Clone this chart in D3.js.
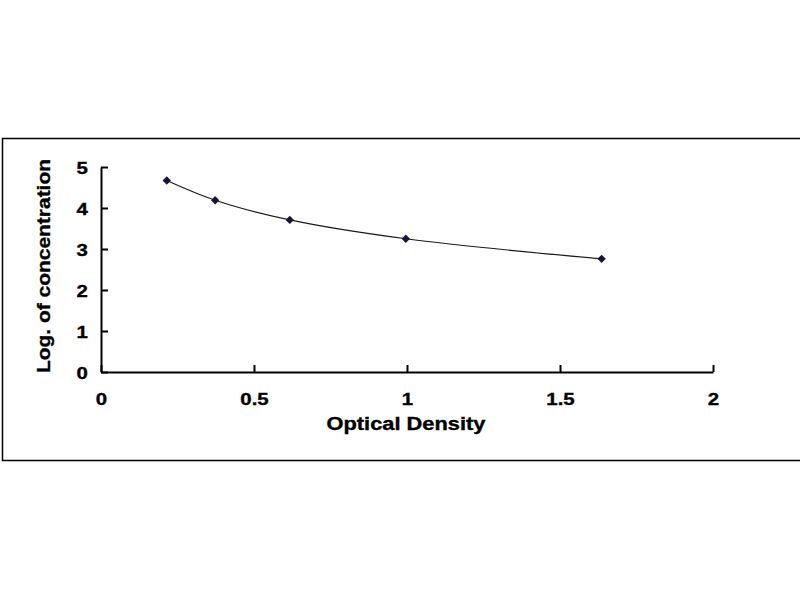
<!DOCTYPE html>
<html>
<head>
<meta charset="utf-8">
<script src="https://cdn.jsdelivr.net/npm/d3@7"></script>
<style>
  body { margin: 0; background: #fff; }
  svg { display: block; }
  text { font-family: "Liberation Sans", Arial, sans-serif; font-weight: bold; fill: #000; stroke: #000; stroke-width: 0.35px; }
</style>
</head>
<body>
<div id="chart"></div>
<script>
const width = 800;
const height = 600;

// Data
const opticalDensity = [0.215, 0.373, 0.617, 0.996, 1.636];
const logConcentration = [4.67, 4.19, 3.71, 3.25, 2.76];
const xTicks = [0, 0.5, 1, 1.5, 2];
const yTicks = [0, 1, 2, 3, 4, 5];

// Plot area
const plotLeft = 101, plotRight = 713, plotTop = 167, plotBottom = 372;

const x = d3.scaleLinear().domain([0, 2]).range([plotLeft, plotRight]);
const y = d3.scaleLinear().domain([0, 5]).range([plotBottom, plotTop]);

const svg = d3.select('#chart')
    .append('svg')
    .attr('width', width)
    .attr('height', height);

// Outer frame
svg.append('rect')
    .attr('x', 2.5)
    .attr('y', 138.5)
    .attr('width', 800)
    .attr('height', 322)
    .attr('fill', 'none')
    .attr('stroke', '#000')
    .attr('stroke-width', 1.5);

// X axis, ticks inside
const xAxis = svg.append('g')
    .attr('transform', `translate(0,${plotBottom})`)
    .call(d3.axisBottom(x).tickValues(xTicks).tickSizeInner(-7).tickSizeOuter(0).tickFormat(d3.format('')));

// Y axis, ticks inside
const yAxis = svg.append('g')
    .attr('transform', `translate(${plotLeft},0)`)
    .call(d3.axisLeft(y).tickValues(yTicks).tickSizeInner(-7).tickSizeOuter(0).tickFormat(d3.format('d')));

[xAxis, yAxis].forEach(g => {
    g.select('.domain').attr('stroke', '#000').attr('stroke-width', 2);
    g.selectAll('.tick line').attr('stroke', '#000').attr('stroke-width', 2);
    g.selectAll('.tick text')
        .style('font-size', '17px')
        .style('font-family', '"Liberation Sans", Arial, sans-serif')
        .style('font-weight', 'bold')
        .attr('fill', '#000');
});
// labels look a bit wider than plain Arial in the picture
xAxis.selectAll('.tick text').attr('y', 33).attr('dy', 0).attr('transform', 'scale(1.2,1)');
yAxis.selectAll('.tick text').attr('x', -11).attr('dy', '0.36em').attr('transform', 'scale(1.2,1)');

// Fitted curve
const points = opticalDensity.map((d, i) => ({ od: d, lc: logConcentration[i] }));

const line = d3.line()
    .x(d => x(d.od))
    .y(d => y(d.lc))
    .curve(d3.curveCatmullRom);

svg.append('path')
    .datum(points)
    .attr('d', line)
    .attr('fill', 'none')
    .attr('stroke', '#1a1a1a')
    .attr('stroke-width', 1.2);

// Diamond markers
svg.selectAll('.pt')
    .data(points)
    .enter().append('path')
    .attr('class', 'pt')
    .attr('d', d3.symbol().type(d3.symbolDiamond2).size(45))
    .attr('transform', d => `translate(${x(d.od)},${y(d.lc)})`)
    .attr('fill', '#14143c');

// Axis titles
svg.append('text')
    .attr('x', 406)
    .attr('y', 430)
    .attr('text-anchor', 'middle')
    .attr('textLength', 159)
    .attr('lengthAdjust', 'spacingAndGlyphs')
    .style('font-size', '18px')
    .text('Optical Density');

svg.append('text')
    .attr('transform', 'translate(50,266) rotate(-90)')
    .attr('text-anchor', 'middle')
    .attr('textLength', 214)
    .attr('lengthAdjust', 'spacingAndGlyphs')
    .style('font-size', '19px')
    .text('Log. of concentration');
</script>
</body>
</html>
